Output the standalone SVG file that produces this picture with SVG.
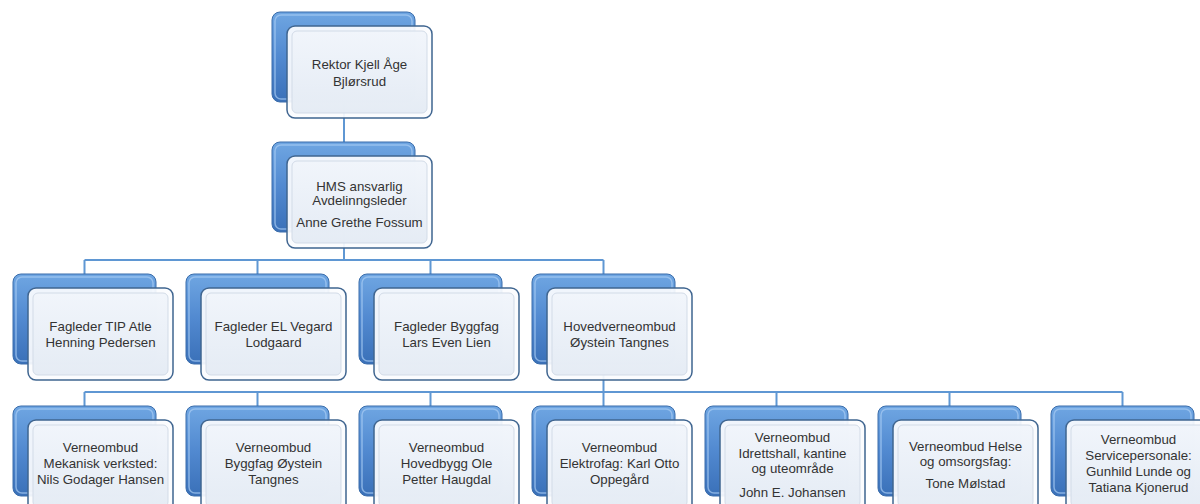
<svg xmlns="http://www.w3.org/2000/svg" xmlns:xlink="http://www.w3.org/1999/xlink" width="1200" height="504" viewBox="0 0 1200 504">
<style>
  .conn { fill: none; stroke: #5f97d3; stroke-width: 2; }
  .lbl { font-family: "Liberation Sans", Arial, sans-serif; font-size: 13.3px; fill: #333333; text-anchor: middle; }
</style>
<defs>
  <linearGradient id="gBack" x1="0" y1="0" x2="0" y2="1">
    <stop offset="0" stop-color="#6fa6e2"/>
    <stop offset="0.5" stop-color="#5189d0"/>
    <stop offset="1" stop-color="#3a70b8"/>
  </linearGradient>
  <linearGradient id="gFront" x1="0" y1="0" x2="0" y2="1">
    <stop offset="0" stop-color="#f1f5fb"/>
    <stop offset="1" stop-color="#e4ebf4"/>
  </linearGradient>
  <g id="box">
    <rect x="0" y="0" width="143" height="90" rx="8" fill="url(#gBack)" stroke="#3a6dab" stroke-width="1"/>
    <rect x="3" y="3" width="137" height="84" rx="6" fill="none" stroke="#a6cbf2" stroke-opacity="0.7" stroke-width="1.5"/>
    <rect x="15" y="14" width="145" height="92" rx="8" fill="#fbfcfe" fill-opacity="0.93" stroke="#3f6590" stroke-width="1.5"/>
    <rect x="20" y="19" width="135" height="82" rx="5" fill="url(#gFront)" fill-opacity="0.95" stroke="#d2dbe7" stroke-width="1"/>
  </g>
</defs>
<rect width="1200" height="504" fill="#ffffff"/>

<g id="connectors">
  <path class="conn" d="M344 102 V142"/>
  <path class="conn" d="M344 232 V260 M84.5 260 H603.5 M84.5 260 V274 M257.5 260 V274 M430.5 260 V274 M603.5 260 V274"/>
  <path class="conn" d="M603.5 365 V392 M84.5 392 H1122.5 M84.5 392 V406 M257.5 392 V406 M430.5 392 V406 M603.5 392 V406 M776.5 392 V406 M949.5 392 V406 M1122.5 392 V406"/>
</g>

<g id="n-rektor">
  <use xlink:href="#box" x="272" y="12"/>
  <text class="lbl" x="359.5" y="69">Rektor Kjell Åge</text>
  <text class="lbl" x="359.5" y="86">Bjlørsrud</text>
</g>

<g id="n-hms">
  <use xlink:href="#box" x="272" y="142"/>
  <text class="lbl" x="359.5" y="191">HMS ansvarlig</text>
  <text class="lbl" x="359.5" y="205">Avdelinngsleder</text>
  <text class="lbl" x="359.5" y="227">Anne Grethe Fossum</text>
</g>

<g id="n-tip">
  <use xlink:href="#box" x="13" y="274"/>
  <text class="lbl" x="100.5" y="331">Fagleder TIP Atle</text>
  <text class="lbl" x="100.5" y="347">Henning Pedersen</text>
</g>
<g id="n-el">
  <use xlink:href="#box" x="186" y="274"/>
  <text class="lbl" x="273.5" y="331">Fagleder EL Vegard</text>
  <text class="lbl" x="273.5" y="347">Lodgaard</text>
</g>
<g id="n-bygg">
  <use xlink:href="#box" x="359" y="274"/>
  <text class="lbl" x="446.5" y="331">Fagleder Byggfag</text>
  <text class="lbl" x="446.5" y="347">Lars Even Lien</text>
</g>
<g id="n-hvo">
  <use xlink:href="#box" x="532" y="274"/>
  <text class="lbl" x="619.5" y="331">Hovedverneombud</text>
  <text class="lbl" x="619.5" y="347">Øystein Tangnes</text>
</g>

<g id="n-vo1">
  <use xlink:href="#box" x="13" y="406"/>
  <text class="lbl" x="100.5" y="452">Verneombud</text>
  <text class="lbl" x="100.5" y="468">Mekanisk verksted:</text>
  <text class="lbl" x="100.5" y="484">Nils Godager Hansen</text>
</g>
<g id="n-vo2">
  <use xlink:href="#box" x="186" y="406"/>
  <text class="lbl" x="273.5" y="452">Verneombud</text>
  <text class="lbl" x="273.5" y="468">Byggfag Øystein</text>
  <text class="lbl" x="273.5" y="484">Tangnes</text>
</g>
<g id="n-vo3">
  <use xlink:href="#box" x="359" y="406"/>
  <text class="lbl" x="446.5" y="452">Verneombud</text>
  <text class="lbl" x="446.5" y="468">Hovedbygg Ole</text>
  <text class="lbl" x="446.5" y="484">Petter Haugdal</text>
</g>
<g id="n-vo4">
  <use xlink:href="#box" x="532" y="406"/>
  <text class="lbl" x="619.5" y="452">Verneombud</text>
  <text class="lbl" x="619.5" y="468">Elektrofag: Karl Otto</text>
  <text class="lbl" x="619.5" y="484">Oppegård</text>
</g>
<g id="n-vo5">
  <use xlink:href="#box" x="705" y="406"/>
  <text class="lbl" x="792.5" y="442">Verneombud</text>
  <text class="lbl" x="792.5" y="458">Idrettshall, kantine</text>
  <text class="lbl" x="792.5" y="473">og uteområde</text>
  <text class="lbl" x="792.5" y="497">John E. Johansen</text>
</g>
<g id="n-vo6">
  <use xlink:href="#box" x="878" y="406"/>
  <text class="lbl" x="965.5" y="451">Verneombud Helse</text>
  <text class="lbl" x="965.5" y="466">og omsorgsfag:</text>
  <text class="lbl" x="965.5" y="488">Tone Mølstad</text>
</g>
<g id="n-vo7">
  <use xlink:href="#box" x="1051" y="406"/>
  <text class="lbl" x="1138.5" y="444">Verneombud</text>
  <text class="lbl" x="1138.5" y="460">Servicepersonale:</text>
  <text class="lbl" x="1138.5" y="476">Gunhild Lunde og</text>
  <text class="lbl" x="1138.5" y="492">Tatiana Kjonerud</text>
</g>
</svg>
